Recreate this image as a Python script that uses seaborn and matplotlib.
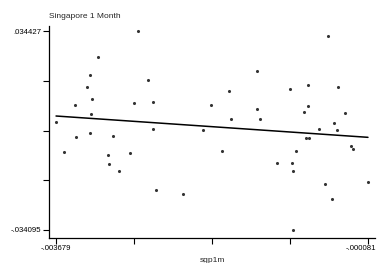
import numpy as np
import pandas as pd
import matplotlib
matplotlib.use("Agg")
import matplotlib.pyplot as plt
import matplotlib.transforms as mtransforms
import seaborn as sns

# ---------------------------------------------------------------------------
# Data
# ---------------------------------------------------------------------------
sgp1m = [
    -0.003679, -0.003587, -0.003460, -0.003448, -0.003322, -0.003287,
    -0.003287, -0.003275, -0.003264, -0.003195, -0.003079, -0.003068,
    -0.003022, -0.002953, -0.002826, -0.002780, -0.002733, -0.002618,
    -0.002560, -0.002560, -0.002526, -0.002214, -0.001984, -0.001892,
    -0.001765, -0.001684, -0.001661, -0.001361, -0.001361, -0.001327,
    -0.001130, -0.000981, -0.000957, -0.000946, -0.000946, -0.000911,
    -0.000819, -0.000796, -0.000773, -0.000773, -0.000761, -0.000646,
    -0.000577, -0.000542, -0.000496, -0.000473, -0.000439, -0.000427,
    -0.000346, -0.000277, -0.000254, -0.000081,
]
singapore_1m = [
    0.003093, -0.007237, 0.008946, -0.002072, 0.015144, 0.019276,
    -0.000695, 0.005847, 0.011012, 0.025474, -0.008270, -0.011369,
    -0.001728, -0.013779, -0.007582, 0.009635, 0.034427, 0.017555,
    0.009979, 0.000682, -0.020322, -0.021699, 0.000338, 0.008946,
    -0.006893, 0.013767, 0.004126, 0.020654, 0.007569, 0.004126,
    -0.011025, 0.014456, -0.011025, -0.013779, -0.034095, -0.006893,
    0.006536, -0.002417, 0.015833, 0.008602, -0.002417, 0.000682,
    -0.018256, 0.032705, -0.023421, 0.002748, 0.000338, 0.015144,
    0.006192, -0.005171, -0.006204, -0.017567,
]

df = pd.DataFrame({"sgp1m": sgp1m, "sg1": singapore_1m})

# ---------------------------------------------------------------------------
# Plot
# ---------------------------------------------------------------------------
sns.set_style("ticks")
plt.rcParams["font.family"] = ["Liberation Sans", "DejaVu Sans"]

fig = plt.figure(figsize=(3.77, 2.63), dpi=100)
ax = fig.add_axes([0.130, 0.0962, 0.8647, 0.8049])

sns.regplot(data=df, x="sgp1m", y="sg1", ci=None, ax=ax,
            scatter_kws=dict(s=5, color="black", linewidths=0),
            line_kws=dict(color="black", linewidth=1.1))

ax.set_xlim(-0.003760, 0.0)
ax.set_ylim(-0.036747, 0.036149)

xmin, xmax = min(sgp1m), max(sgp1m)
ymin, ymax = min(singapore_1m), max(singapore_1m)
ax.set_xticks(np.linspace(xmin, xmax, 5))
ax.set_xticklabels(["-.003679", "", "", "", "-.000081"])
ax.set_yticks(np.linspace(ymin, ymax, 5))
ax.set_yticklabels(["-.034095", "", "", "", ".034427"])

ax.tick_params(axis="both", direction="out", length=4, width=0.8,
               colors="black", labelsize=5.6, pad=1.5)
for side in ("top", "right"):
    ax.spines[side].set_visible(False)
for side in ("left", "bottom"):
    ax.spines[side].set_linewidth(0.9)
    ax.spines[side].set_color("black")

# keep the last x label inside the figure, as in the reference
last = ax.get_xticklabels()[-1]
last.set_horizontalalignment("right")
last.set_transform(last.get_transform() +
                   mtransforms.ScaledTranslation(0.08, 0, fig.dpi_scale_trans))

ax.set_xlabel("sgp1m", fontsize=6, labelpad=3)
ax.set_ylabel("")
ax.set_title("Singapore 1 Month", loc="left", fontsize=6, pad=6)

fig.savefig("out.png", dpi=100)
